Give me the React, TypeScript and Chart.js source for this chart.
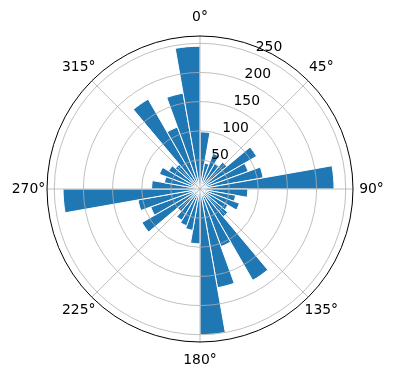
import React, { useEffect, useRef } from "react";
import { Chart, registerables } from "chart.js";

Chart.register(...registerables);

const directions = [
  "0°", "10°", "20°", "30°", "40°", "50°", "60°", "70°", "80°",
  "90°", "100°", "110°", "120°", "130°", "140°", "150°", "160°", "170°",
  "180°", "190°", "200°", "210°", "220°", "230°", "240°", "250°", "260°",
  "270°", "280°", "290°", "300°", "310°", "320°", "330°", "340°", "350°",
];

const counts = [
  98, 45, 65, 50, 60, 112, 88, 110, 230,
  82, 62, 72, 55, 62, 181, 105, 172, 250,
  94, 72, 67, 62, 50, 115, 90, 108, 235,
  83, 62, 74, 62, 55, 178, 113, 167, 245,
];

const radialTicks = [50, 100, 150, 200, 250];
const angleTicks = [0, 45, 90, 135, 180, 225, 270, 315];
const rMax = 262.5;
const rLabelAngle = 22.5;

const FONT = '13.9px "DejaVu Sans"';

const polarDecor = {
  id: "polarDecor",
  afterDatasetsDraw(chart: any) {
    const s = chart.scales.r;
    const cx = s.xCenter;
    const cy = s.yCenter;
    const R = s.getDistanceFromCenterForValue(rMax);
    const ctx = chart.ctx as CanvasRenderingContext2D;
    ctx.save();
    ctx.strokeStyle = "#b0b0b0";
    ctx.lineWidth = 0.8;
    for (const t of radialTicks) {
      const r = s.getDistanceFromCenterForValue(t);
      ctx.beginPath();
      ctx.arc(cx, cy, r, 0, Math.PI * 2);
      ctx.stroke();
    }
    for (const a of angleTicks) {
      const rad = (a * Math.PI) / 180;
      ctx.beginPath();
      ctx.moveTo(cx, cy);
      ctx.lineTo(cx + R * Math.sin(rad), cy - R * Math.cos(rad));
      ctx.stroke();
    }
    ctx.strokeStyle = "#000";
    ctx.lineWidth = 1;
    ctx.beginPath();
    ctx.arc(cx, cy, R, 0, Math.PI * 2);
    ctx.stroke();

    ctx.fillStyle = "#000";
    ctx.font = FONT;
    ctx.textAlign = "center";
    ctx.textBaseline = "middle";
    for (const a of angleTicks) {
      const rad = (a * Math.PI) / 180;
      const d = R + 18.5;
      ctx.fillText(a + "°", cx + d * Math.sin(rad), cy - d * Math.cos(rad));
    }
    ctx.textAlign = "left";
    ctx.textBaseline = "bottom";
    const la = (rLabelAngle * Math.PI) / 180;
    for (const t of radialTicks) {
      const r = s.getDistanceFromCenterForValue(t);
      ctx.fillText(String(t), cx + r * Math.sin(la), cy - r * Math.cos(la));
    }
    ctx.restore();
  },
};

export default function App() {
  const ref = useRef<HTMLCanvasElement | null>(null);
  useEffect(() => {
    if (!ref.current) return;
    const chart = new Chart(ref.current, {
      type: "polarArea",
      data: {
        labels: directions,
        datasets: [
          {
            data: counts,
            backgroundColor: "#1f77b4",
            borderColor: "#ffffff",
            borderWidth: 1,
          },
        ],
      },
      options: {
        responsive: false,
        animation: false,
        layout: { padding: { left: 47, right: 42, top: 36, bottom: 37 } },
        plugins: { legend: { display: false }, tooltip: { enabled: false } },
        scales: {
          r: {
            min: 0,
            max: rMax,
            ticks: { display: false },
            grid: { display: false },
            angleLines: { display: false },
            pointLabels: { display: false },
          },
        },
      },
      plugins: [polarDecor],
    });
    return () => chart.destroy();
  }, []);
  return (
    <div style={{ position: "fixed", left: 0, top: 0, width: 396, height: 380, background: "#fff" }}>
      <canvas ref={ref} width={396} height={380} style={{ width: 396, height: 380 }} />
    </div>
  );
}
